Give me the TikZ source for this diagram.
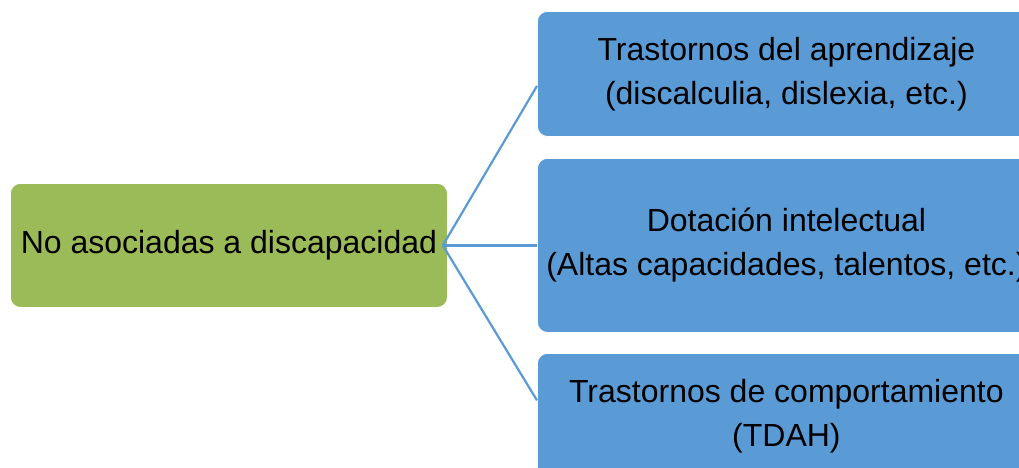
\documentclass[tikz,border=0pt]{standalone}
\usepackage{fontspec}
\setmainfont{Liberation Sans}
\usetikzlibrary{calc}
\definecolor{gbox}{HTML}{9BBB59}
\definecolor{bbox}{HTML}{5B9BD5}
\begin{document}
\begin{tikzpicture}[x=1pt,y=-1pt,
  boxbase/.style={rounded corners=10pt, draw=white, line width=0.8pt, anchor=north west,
    inner sep=0pt, align=center, font=\fontsize{32}{44}\selectfont, text=black},
  greenbox/.style={boxbase, fill=gbox},
  bluebox/.style={boxbase, fill=bbox, minimum width=498pt},
  conn/.style={draw=bbox, line width=2.2pt}]
\clip (0,0) rectangle (1019,468);
\fill[white] (0,0) rectangle (1019,468);
\node[greenbox, minimum width=437pt, minimum height=124pt] (g) at (10,183) {No asociadas a discapacidad};
\node[bluebox, minimum height=125pt] (b1) at (537,11) {Trastornos del aprendizaje\\(discalculia, dislexia, etc.)};
\node[bluebox, minimum height=174pt] (b2) at (537,158) {Dotación intelectual\\(Altas capacidades, talentos, etc.)};
\node[bluebox, minimum height=126pt] (b3) at (537,353) {Trastornos de comportamiento\\(TDAH)};
\coordinate (s) at ($(g.east)+(-5,0)$);
\coordinate (e1) at ($(b1.west)+(0,12)$);
\coordinate (e3) at ($(b3.west)+(0,-16)$);
\draw[conn] (s) -- (e1);
\draw[conn] (s) -- (b2.west);
\draw[conn] (s) -- (e3);
\end{tikzpicture}
\end{document}
